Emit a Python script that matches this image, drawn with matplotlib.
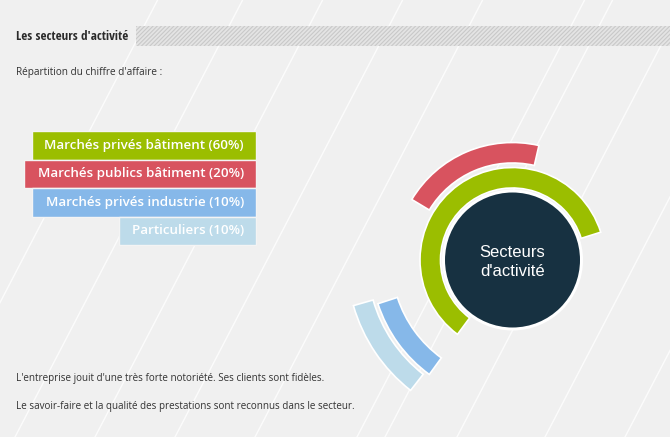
import matplotlib
matplotlib.use("Agg")
import matplotlib.pyplot as plt
from matplotlib.patches import Wedge, Circle, Rectangle

# data
categories = ["Marchés privés bâtiment", "Marchés publics bâtiment",
              "Marchés privés industrie", "Particuliers"]
shares = [60, 20, 10, 10]
colors = ["#9bbe00", "#d8535f", "#86b8e9", "#bddbea"]
start_angles = [17.5, 77, 198, 196]

W, H = 670, 437
fig = plt.figure(figsize=(W / 100, H / 100), dpi=100)
fig.patch.set_facecolor("#f0f0f0")
ax = fig.add_axes([0, 0, 1, 1])
ax.set_xlim(0, W)
ax.set_ylim(0, H)
ax.set_aspect("equal")
ax.axis("off")

# background diagonal lines
slope = 1.92
for x0 in [-70, 15, 95, 175, 255, 357, 385, 457, 545, 625, 705, 790, 870]:
    ax.plot([x0, x0 + H / slope], [0, H], color="white", lw=1.0, alpha=0.8, zorder=0)

sans = ["Open Sans", "DejaVu Sans"]
txt = "#333333"

# header
ax.text(16, H - 37, "Les secteurs d'activité", fontsize=9.4, fontweight="bold",
        family=["Open Sans Condensed", "DejaVu Sans"], color="#2b2b2b", va="center")
plt.rcParams["hatch.color"] = "#c9c9c9"
plt.rcParams["hatch.linewidth"] = 0.8
ax.add_patch(Rectangle((136, H - 46), W - 136, 20, facecolor="#e4e4e4",
                       edgecolor="#c9c9c9", lw=0, hatch="////////", zorder=1))

ax.text(16, H - 73, "Répartition du chiffre d'affaire :", fontsize=7.2, family=sans,
        color=txt, va="center")

# legend boxes
box_left = [32, 24, 32, 119]
box_top = 131
box_h = 28.5
for i, (cat, s, c) in enumerate(zip(categories, shares, colors)):
    y = H - box_top - (i + 1) * box_h
    ax.add_patch(Rectangle((box_left[i], y), 256 - box_left[i], box_h, facecolor=c,
                           edgecolor="#f4f4f4", lw=1, zorder=2))
    ax.text(244, y + box_h / 2, f"{cat} ({s}%)", fontsize=9.6, family=sans,
            fontweight="semibold", color="white", ha="right", va="center", zorder=3)

# rings
cx, cy = 512.5, H - 260
inner = [72, 97, 121, 145]
width = 20.5
for r, s, c, a0 in zip(inner, shares, colors, start_angles):
    ax.add_patch(Wedge((cx, cy), r + width, a0, a0 + s * 3.6, width=width,
                       facecolor=c, edgecolor="white", lw=1.2, zorder=3))

ax.add_patch(Circle((cx, cy), 70.5, facecolor="white", zorder=4))
ax.add_patch(Circle((cx, cy), 67.5, facecolor="#173141", zorder=5))
ax.text(cx, cy - 2, "Secteurs\nd'activité", fontsize=12, family=["Liberation Sans", "DejaVu Sans"],
        color="white", ha="center", va="center", linespacing=1.3, zorder=6)

# bottom text
ax.text(16, H - 379, "L'entreprise jouit d'une très forte notoriété. Ses clients sont fidèles.",
        fontsize=7.15, family=sans, color=txt, va="center")
ax.text(16, H - 406, "Le savoir-faire et la qualité des prestations sont reconnus dans le secteur.",
        fontsize=7.15, family=sans, color=txt, va="center")

fig.savefig("out.png", dpi=100, facecolor=fig.get_facecolor())
